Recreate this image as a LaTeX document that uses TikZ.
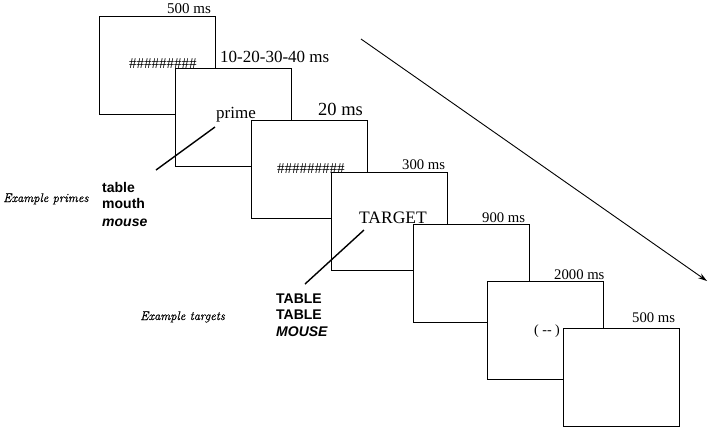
\documentclass[tikz,border=0pt]{standalone}
\usepackage{fontspec}
\newfontfamily\tms{Liberation Serif}
\newfontfamily\ars{Liberation Sans}
\newfontfamily\exfont{Latin Modern Roman}[FakeBold=0.6]
\usetikzlibrary{arrows.meta}
\newcommand{\hashrow}{\#\#\#\#\#\#\#\#\#}
\begin{document}
\begin{tikzpicture}[x=1bp,y=-1bp,
  scr/.style={draw, fill=white, line width=1.3bp, anchor=north west, minimum width=116bp, minimum height=98bp, inner sep=0pt},
  lbl/.style={inner sep=0pt, anchor=base west},
  tm/.style={font=\tms\fontsize{#1}{#1}\selectfont},
  wd/.style={inner sep=0pt, anchor=base west, font=\ars\bfseries\fontsize{14bp}{14bp}\selectfont},
  ex/.style={inner sep=0pt, anchor=base west, font=\exfont\itshape\fontsize{12.5bp}{12.5bp}\selectfont},
  ptr/.style={line width=1.4bp}]
\useasboundingbox (0,0) rectangle (709,429);
% screen 1
\node[scr] (b1) at (99,16) {};
\node[lbl,tm=15bp] (t1) at (167,13) {500 ms};
\node[lbl,tm=15bp] (h1) at (129,68) {\hashrow};
% screen 2
\node[scr] (b2) at (175,68) {};
\node[lbl,tm=17bp] (t2) at (220,62) {10-20-30-40 ms};
\node[lbl,tm=17bp] (pr) at (216,118) {prime};
% screen 3
\node[scr] (b3) at (251,120) {};
\node[lbl,tm=18.5bp] (t3) at (318,115) {20 ms};
\node[lbl,tm=15bp] (h3) at (277,173) {\hashrow};
% screen 4
\node[scr] (b4) at (331,172) {};
\node[lbl,tm=14.7bp] (t4) at (402,169) {300 ms};
\node[lbl,tm=17.5bp] (tg) at (359,223) {TARGET};
% screen 5
\node[scr] (b5) at (413,224) {};
\node[lbl,tm=14.7bp] (t5) at (482,222) {900 ms};
% screen 6
\node[scr] (b6) at (487,281) {};
\node[lbl,tm=14.7bp] (t6) at (554,279) {2000 ms};
\node[lbl,tm=14bp] (fx) at (534,334) {( -{}- )};
% screen 7
\node[scr] (b7) at (563,328) {};
\node[lbl,tm=14.7bp] (t7) at (632,322) {500 ms};
% example primes
\node[ex] (ep) at (3,202) {Example primes};
\node[wd] (w1) at (102,192) {table};
\node[wd] (w2) at (102,208) {mouth};
\node[wd] (w3) at (102,226) {\itshape mouse};
% example targets
\node[ex] (et) at (140,320) {Example targets};
\node[wd] (w4) at (276,303) {TABLE};
\node[wd] (w5) at (276,319) {TABLE};
\node[wd] (w6) at (276,336) {\itshape MOUSE};
% pointers
\coordinate (p0) at (215,127);
\coordinate (p1) at (156,170);
\draw[ptr] (p0) -- (p1);
\coordinate (q0) at (364,230);
\coordinate (q1) at (305,284);
\draw[ptr] (q0) -- (q1);
% time arrow
\coordinate (a0) at (361,39);
\coordinate (a1) at (707,281);
\draw[line width=0.9bp, -{Stealth[length=9bp,width=5.5bp]}] (a0) -- (a1);
\end{tikzpicture}
\end{document}
